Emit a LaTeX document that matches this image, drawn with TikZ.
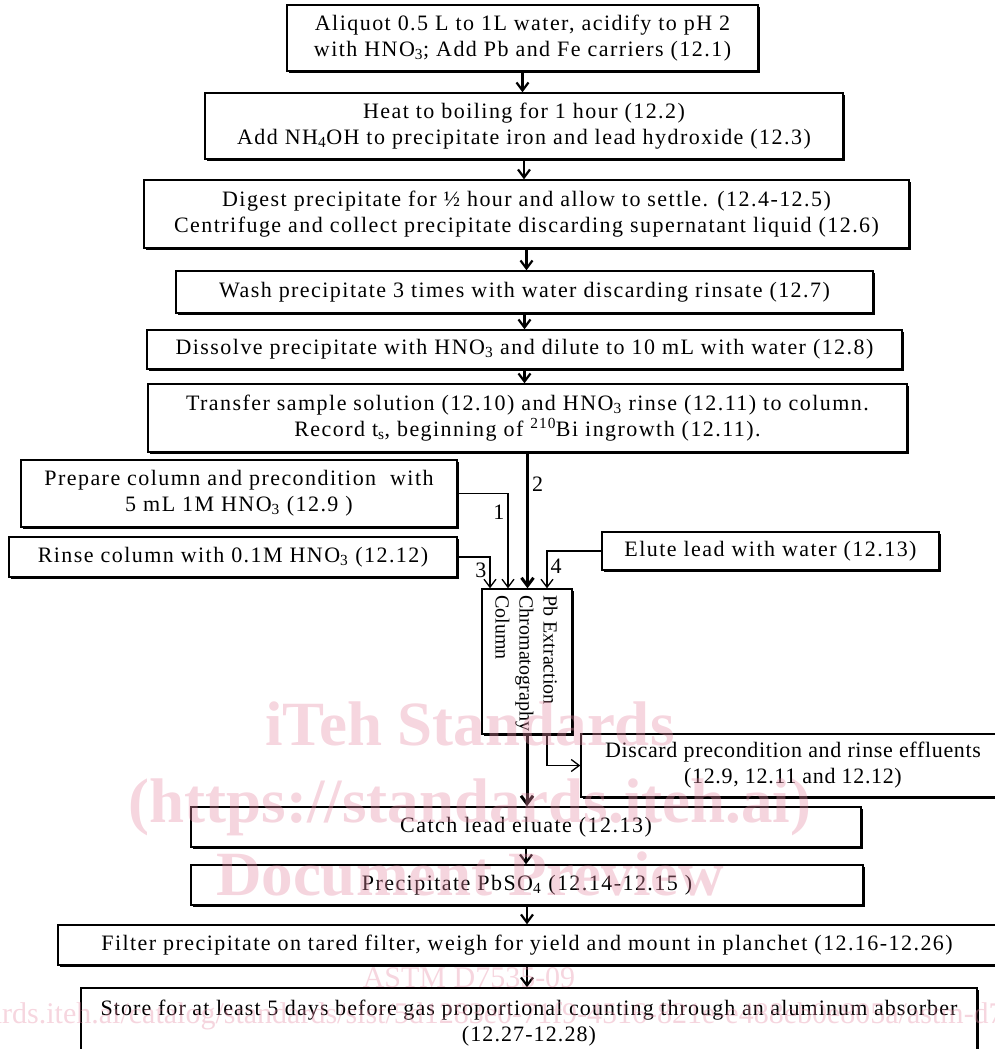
\documentclass[tikz,border=0pt]{standalone}
\usepackage{fontspec}
\setmainfont{Liberation Serif}
\usepackage{tikz}
\usetikzlibrary{calc}
\usetikzlibrary{arrows.meta}
\usetikzlibrary{shadows}
\definecolor{wmpink}{RGB}{230,140,165}
\newcommand{\boxfont}{\fontsize{22}{26}\selectfont\addfontfeature{LetterSpace=6.6}}
\newcommand{\colfont}{\fontsize{20}{24}\selectfont}
\tikzstyle{stepbox}=[draw, line width=1.4pt, fill=white, inner sep=0pt, align=center, font=\boxfont, drop shadow={shadow xshift=2pt, shadow yshift=-2pt, opacity=1, fill=black}]
\tikzstyle{flow}=[line width=1.3pt, -{Straight Barb[length=8pt,width=12pt]}]
\tikzstyle{chainflow}=[line width=2.2pt, -{Straight Barb[length=8pt,width=12pt]}]
\tikzstyle{mainflow}=[line width=3pt, -{Straight Barb[length=8pt,width=12pt]}]
\tikzstyle{num}=[font=\boxfont, inner sep=3pt]
\tikzstyle{wmbig}=[text=wmpink, text opacity=0.36, inner sep=0pt, font=\fontsize{63}{63}\selectfont\bfseries]
\tikzstyle{wmsmall}=[text=wmpink, text opacity=0.36, inner sep=0pt, font=\fontsize{30}{30}\selectfont]

\begin{document}
\begin{tikzpicture}[x=1pt,y=-1pt]
    \useasboundingbox (0,0) rectangle (995,1049);
    % main chain
    \node[stepbox, minimum width=471pt, minimum height=66pt] (aliquot) at (522.5,38) {Aliquot 0.5 L to 1L water, acidify to pH 2\\with HNO\textsubscript{3}; Add Pb and Fe carriers (12.1)};
    \node[stepbox, minimum width=638pt, minimum height=66pt] (heat) at (524,126) {Heat to boiling for 1 hour (12.2)\\Add NH\textsubscript{4}OH to precipitate iron and lead hydroxide (12.3)};
    \node[stepbox, minimum width=765pt, minimum height=68pt] (digest) at (526.5,214) {Digest precipitate for ½ hour and allow to settle. (12.4-12.5)\\Centrifuge and collect precipitate discarding supernatant liquid (12.6)};
    \node[stepbox, minimum width=697pt, minimum height=42pt] (wash) at (524.5,292) {Wash precipitate 3 times with water discarding rinsate (12.7)};
    \node[stepbox, minimum width=755pt, minimum height=39pt] (dissolve) at (524.5,349.5) {Dissolve precipitate with HNO\textsubscript{3} and dilute to 10 mL with water (12.8)};
    \node[stepbox, minimum width=759pt, minimum height=68pt] (transfer) at (527.5,418) {Transfer sample solution (12.10) and HNO\textsubscript{3} rinse (12.11) to column.\\Record t\textsubscript{s}, beginning of \textsuperscript{210}Bi ingrowth (12.11).};
    % side inputs
    \node[stepbox, minimum width=436pt, minimum height=67pt] (prep) at (239,493.5) {Prepare column and precondition \ with\\5 mL 1M HNO\textsubscript{3} (12.9 )};
    \node[stepbox, minimum width=448pt, minimum height=40pt] (rinse) at (233,557) {Rinse column with 0.1M HNO\textsubscript{3} (12.12)};
    \node[stepbox, minimum width=337pt, minimum height=38pt] (elute) at (770.5,551) {Elute lead with water (12.13)};
    % column
    \node[stepbox, minimum width=90pt, minimum height=145pt] (column) at (527,661.5) {};
    \node[rotate=-90, anchor=north west, align=left, inner sep=0pt, font=\colfont] (columntext) at ($(column.north east)+(-15,7)$) {Pb Extraction\\Chromatography\\Column};
    \node[stepbox, minimum width=424pt, minimum height=63pt, font=\boxfont\addfontfeature{LetterSpace=3}] (discard) at (793,765.5) {Discard precondition and rinse effluents\\(12.9, 12.11 and 12.12)};
    % lower chain
    \node[stepbox, minimum width=670pt, minimum height=40pt] (catch) at (526,827) {Catch lead eluate (12.13)};
    \node[stepbox, minimum width=672pt, minimum height=40pt] (precip) at (527,885) {Precipitate PbSO\textsubscript{4} (12.14-12.15 )};
    \node[stepbox, minimum width=938pt, minimum height=40pt] (filter) at (527,945) {Filter precipitate on tared filter, weigh for yield and mount in planchet (12.16-12.26)};
    \node[stepbox, minimum width=896pt, minimum height=70pt, font=\boxfont\addfontfeature{LetterSpace=5}] (store) at (529,1023) {Store for at least 5 days before gas proportional counting through an aluminum absorber\\(12.27-12.28)};

    \coordinate (in3) at ($(column.north)+(-37,0)$);
    \coordinate (in1) at ($(column.north)+(-19,0)$);
    \coordinate (in4) at ($(column.north)+(20,0)$);
    \coordinate (out4) at ($(column.south)+(20,0)$);

    \draw[chainflow] (aliquot.south) -- (aliquot.south |- heat.north);
    \draw[chainflow] (heat.south) -- (heat.south |- digest.north);
    \draw[chainflow] (digest.south) -- (digest.south |- wash.north);
    \draw[chainflow] (wash.south) -- (wash.south |- dissolve.north);
    \draw[chainflow] (dissolve.south) -- (dissolve.south |- transfer.north);
    \draw[mainflow] (transfer.south) -- node[num, right, pos=0.23] (lab2) {2} (transfer.south |- column.north);
    \draw[flow] (prep.east) -| node[num, left, pos=0.6] (lab1) {1} (in1);
    \draw[flow] (rinse.east) -| node[num, left, pos=0.72] (lab3) {3} (in3);
    \draw[flow] (elute.west) -| node[num, right, pos=0.71] (lab4) {4} (in4);
    \draw[flow] (out4) |- (discard.west);
    \draw[mainflow] (column.south) -- (column.south |- catch.north);
    \draw[chainflow] (catch.south) -- (catch.south |- precip.north);
    \draw[chainflow] (precip.south) -- (precip.south |- filter.north);
    \draw[chainflow] (filter.south) -- (filter.south |- store.north);

    % watermark
    \node[wmbig, anchor=base] (wmiteh) at (470,745) {iTeh Standards};
    \node[wmbig, anchor=base] (wmsite) at (470,822) {(https://standards.iteh.ai)};
    \node[wmbig, anchor=base] (wmdoc) at (470,895) {Document Preview};
    \node[wmsmall, anchor=base] (wmastm) at (469,987) {ASTM D7535-09};
    \node[wmsmall, anchor=base west] (wmlink) at (2,1023) {\llap{https://standa}rds.iteh.ai/catalog/standards/sist/5d1283e0-71f9-4516-821e-e488eb0e805a/astm-d7535-09};
\end{tikzpicture}
\end{document}
